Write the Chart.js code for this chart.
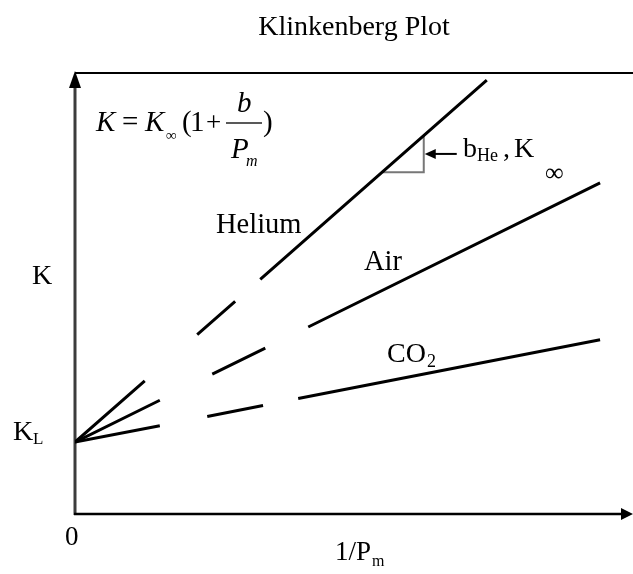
<!DOCTYPE html>
<html>
<head>
<meta charset="utf-8">
<script src="https://cdn.jsdelivr.net/npm/chart.js@4.4.1/dist/chart.umd.min.js"></script>
<style>
    html, body { margin: 0; padding: 0; background: #fff; }
    #wrap { width: 633px; height: 574px; }
</style>
</head>
<body>
<div id="wrap"><canvas id="klinkenberg-chart"></canvas></div>
<script>
// axis range, arbitrary units (1/Pm across, K up)
const xMax = 10;
const yMax = 10;

// each gas: solid near the origin, a dash, then the measured solid line (null = gap)
const heliumX = [0, 1.25, 1.7, 2.19, 2.87, 3.1, 3.32, 7.38];
const heliumY = [1.63, 3.02, null, 4.07, 4.82, null, 5.32, 9.84];

const airX = [0, 1.52, 2.0, 2.46, 3.41, 3.8, 4.18, 9.41];
const airY = [1.63, 2.58, null, 3.17, 3.76, null, 4.24, 7.51];

const co2X = [0, 1.52, 1.9, 2.37, 3.37, 3.7, 4.0, 9.41];
const co2Y = [1.63, 2.00, null, 2.21, 2.46, null, 2.62, 3.95];

// slope triangle drawn on the helium line
const slopeX = [5.52, 6.25, 6.25];
const slopeY = [7.75, 7.75, 8.58];

function toPoints(xs, ys) {
    return xs.map(function (x, i) { return { x: x, y: ys[i] }; });
}

const SERIF = '"Liberation Serif", "DejaVu Serif", serif';

const decorations = {
    id: 'decorations',
    beforeDatasetsDraw(chart) {
        const ctx = chart.ctx;
        const x = chart.scales.x, y = chart.scales.y;
        const x0 = x.getPixelForValue(0), y0 = y.getPixelForValue(0);
        const xEnd = x.getPixelForValue(xMax), yTop = y.getPixelForValue(yMax);

        ctx.save();
        // top frame line
        ctx.strokeStyle = '#000';
        ctx.lineWidth = 2;
        ctx.beginPath();
        ctx.moveTo(x0, yTop);
        ctx.lineTo(xEnd, yTop);
        ctx.stroke();

        // y axis with arrow
        ctx.strokeStyle = '#3c3c3c';
        ctx.lineWidth = 3;
        ctx.beginPath();
        ctx.moveTo(x0, y0 + 1);
        ctx.lineTo(x0, yTop + 12);
        ctx.stroke();
        ctx.fillStyle = '#000';
        ctx.beginPath();
        ctx.moveTo(x0, yTop - 2);
        ctx.lineTo(x0 - 6, yTop + 15);
        ctx.lineTo(x0 + 6, yTop + 15);
        ctx.closePath();
        ctx.fill();

        // x axis with arrow
        ctx.strokeStyle = '#000';
        ctx.lineWidth = 2.5;
        ctx.beginPath();
        ctx.moveTo(x0 - 1, y0);
        ctx.lineTo(xEnd - 10, y0);
        ctx.stroke();
        ctx.beginPath();
        ctx.moveTo(xEnd, y0);
        ctx.lineTo(xEnd - 12, y0 - 6);
        ctx.lineTo(xEnd - 12, y0 + 6);
        ctx.closePath();
        ctx.fill();
        ctx.restore();
    },
    afterDatasetsDraw(chart) {
        const ctx = chart.ctx;
        const area = chart.chartArea;
        const x = chart.scales.x, y = chart.scales.y;

        function text(str, px, py, size, italic, align) {
            ctx.font = (italic ? 'italic ' : '') + size + 'px ' + SERIF;
            ctx.textAlign = align || 'left';
            ctx.fillText(str, px, py);
        }

        ctx.save();
        ctx.fillStyle = '#000';
        ctx.textBaseline = 'alphabetic';

        // title
        text('Klinkenberg Plot', (area.left + area.right) / 2, 35, 28, false, 'center');

        // axis labels
        text('K', 32, 284, 28);
        text('K', 13, 440, 28);
        text('L', 33, 444, 17);
        text('0', 65, 545, 27);
        text('1/P', 335, 560, 27);
        text('m', 372, 566, 16);

        // gas labels
        text('Helium', 216, 233, 28.5);
        text('Air', 364, 270, 28.5);
        text('CO', 387, 362, 28);
        text('2', 427, 367, 18);

        // Klinkenberg equation
        text('K', 96, 131, 29, true);
        text('=', 122, 131, 29);
        text('K', 145, 131, 29, true);
        text('\u221E', 166, 140, 15);
        text('(', 182, 131, 29);
        text('1', 190, 131, 29);
        text('+', 206, 131, 27);
        ctx.strokeStyle = '#222';
        ctx.lineWidth = 1.5;
        ctx.beginPath();
        ctx.moveTo(226, 123);
        ctx.lineTo(262, 123);
        ctx.stroke();
        text('b', 237, 112, 29, true);
        text('P', 231, 158, 29, true);
        text('m', 246, 166, 16, true);
        text(')', 263, 131, 29);

        // slope annotation with arrow pointing at the triangle
        const tipX = x.getPixelForValue(slopeX[1]);
        const tipY = (y.getPixelForValue(slopeY[1]) + y.getPixelForValue(slopeY[2])) / 2;
        ctx.strokeStyle = '#000';
        ctx.lineWidth = 2;
        ctx.beginPath();
        ctx.moveTo(tipX + 33, tipY);
        ctx.lineTo(tipX + 8, tipY);
        ctx.stroke();
        ctx.beginPath();
        ctx.moveTo(tipX + 1, tipY);
        ctx.lineTo(tipX + 12, tipY - 5);
        ctx.lineTo(tipX + 12, tipY + 5);
        ctx.closePath();
        ctx.fill();

        text('b', 463, 157, 28);
        text('He', 477, 161, 18);
        text(',', 503, 157, 28);
        text('K', 514, 157, 28);
        text('\u221E', 545, 181, 26);
        ctx.restore();
    }
};

const lineStyle = {
    showLine: true,
    borderColor: '#000',
    borderWidth: 3,
    pointRadius: 0,
    spanGaps: false,
    fill: false,
    tension: 0
};

new Chart(document.getElementById('klinkenberg-chart'), {
    type: 'scatter',
    data: {
        datasets: [
            Object.assign({ label: 'Helium', data: toPoints(heliumX, heliumY) }, lineStyle),
            Object.assign({ label: 'Air', data: toPoints(airX, airY) }, lineStyle),
            Object.assign({ label: 'CO2', data: toPoints(co2X, co2Y) }, lineStyle),
            Object.assign({ label: 'slope', data: toPoints(slopeX, slopeY) }, lineStyle,
                { borderColor: '#777', borderWidth: 2 })
        ]
    },
    options: {
        responsive: true,
        maintainAspectRatio: false,
        animation: false,
        layout: { padding: { left: 75, right: 0, top: 73, bottom: 60 } },
        scales: {
            x: { type: 'linear', min: 0, max: xMax, display: false },
            y: { type: 'linear', min: 0, max: yMax, display: false }
        },
        plugins: {
            legend: { display: false },
            tooltip: { enabled: false }
        }
    },
    plugins: [decorations]
});
</script>
</body>
</html>
